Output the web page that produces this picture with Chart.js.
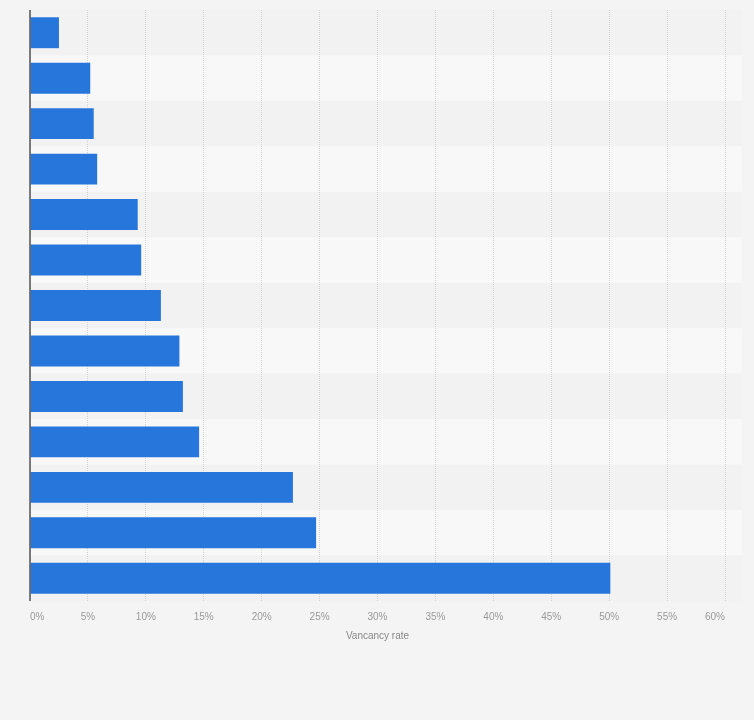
<!DOCTYPE html>
<html>
<head>
<meta charset="utf-8">
<script src="https://cdn.jsdelivr.net/npm/chart.js@4"></script>
<style>
  html, body { margin: 0; padding: 0; background: #f4f4f4; }
  #wrap { width: 754px; height: 720px; }
</style>
</head>
<body>
<div id="wrap"><canvas id="c" width="754" height="720"></canvas></div>
<script>
const categories = ['Category 1','Category 2','Category 3','Category 4','Category 5','Category 6','Category 7','Category 8','Category 9','Category 10','Category 11','Category 12','Category 13'];
const vacancyRate = [2.5, 5.2, 5.5, 5.8, 9.3, 9.6, 11.3, 12.9, 13.2, 14.6, 22.7, 24.7, 50.1];
const xTicks = [0, 5, 10, 15, 20, 25, 30, 35, 40, 45, 50, 55, 60];
const axisTitle = 'Vancancy rate';

const bandsPlugin = {
  id: 'bands',
  beforeDraw(chart) {
    const ctx = chart.ctx;
    const y = chart.scales.y;
    const area = chart.chartArea;
    ctx.save();
    ctx.fillStyle = '#f4f4f4';
    ctx.fillRect(0, 0, chart.width, chart.height);
    const step = categories.length > 1 ? (y.getPixelForValue(1) - y.getPixelForValue(0)) : (area.bottom - area.top);
    categories.forEach((c, i) => {
      const cy = y.getPixelForValue(i);
      ctx.fillStyle = i % 2 === 0 ? '#f2f2f2' : '#f8f8f8';
      ctx.fillRect(area.left, cy - step / 2, chart.width - 12 - area.left, step);
    });
    ctx.restore();
  },
  afterDraw(chart) {
    const ctx = chart.ctx;
    const area = chart.chartArea;
    ctx.save();
    ctx.strokeStyle = '#555555';
    ctx.lineWidth = 1.5;
    ctx.beginPath();
    ctx.moveTo(area.left, area.top);
    ctx.lineTo(area.left, area.bottom);
    ctx.stroke();
    ctx.restore();
  }
};

new Chart(document.getElementById('c'), {
  type: 'bar',
  data: {
    labels: categories,
    datasets: [{
      data: vacancyRate,
      backgroundColor: '#2776dc',
      borderWidth: 0,
      barPercentage: 0.68,
      categoryPercentage: 1.0
    }]
  },
  options: {
    indexAxis: 'y',
    responsive: false,
    animation: false,
    layout: { padding: { left: 30, right: 29, top: 10, bottom: 78 } },
    plugins: { legend: { display: false }, tooltip: { enabled: false } },
    scales: {
      y: { display: false },
      x: {
        min: xTicks[0],
        max: xTicks[xTicks.length - 1],
        afterBuildTicks(scale) { scale.ticks = xTicks.map(v => ({ value: v })); },
        afterFit(scale) { scale.height = 41; },
        grid: { color: '#d2d2d2', lineWidth: 1, drawTicks: false },
        border: { display: false, dash: [1, 1] },
        ticks: {
          align: 'inner',
          padding: 10,
          color: '#999999',
          font: { family: 'Liberation Sans', size: 10 },
          callback: v => v + '%'
        },
        title: {
          display: true,
          text: axisTitle,
          color: '#888888',
          padding: 0,
          font: { family: 'Liberation Sans', size: 10 }
        }
      }
    }
  },
  plugins: [bandsPlugin]
});
</script>
</body>
</html>
